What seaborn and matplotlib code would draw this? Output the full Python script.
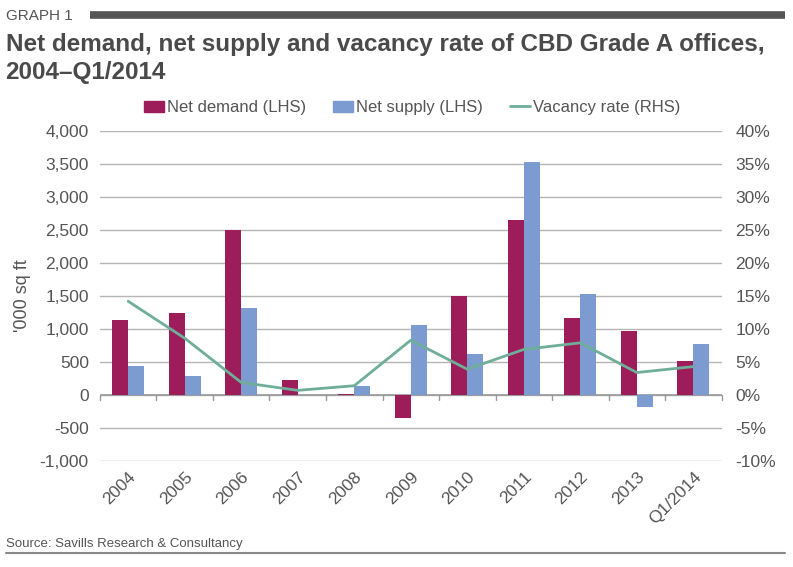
import numpy as np
import pandas as pd
import matplotlib
matplotlib.use("Agg")
import matplotlib.pyplot as plt
import seaborn as sns
from matplotlib.ticker import FuncFormatter, MultipleLocator
from matplotlib.patches import Patch
from matplotlib.lines import Line2D

# data
periodos = ["2004", "2005", "2006", "2007", "2008", "2009", "2010", "2011", "2012", "2013", "Q1/2014"]
net_demand = [1140, 1245, 2500, 225, 20, -355, 1500, 2655, 1165, 975, 520]
net_supply = [445, 280, 1320, 0, 130, 1065, 615, 3535, 1525, -180, 775]
vacancy = [14.2, 8.6, 1.9, 0.7, 1.4, 8.3, 3.9, 6.9, 7.9, 3.4, 4.3]

cor_demand = "#9C1D5A"
cor_supply = "#7B9BD1"
cor_vac = "#6FAE98"
cinza = "#555555"

sns.set_theme(style="white")
plt.rcParams['font.family'] = ['Liberation Sans', 'DejaVu Sans']

df = pd.DataFrame({
    "periodo": periodos * 2,
    "valor": net_demand + net_supply,
    "serie": ["Net demand (LHS)"] * len(periodos) + ["Net supply (LHS)"] * len(periodos),
})

fig = plt.figure(figsize=(7.93, 5.67), dpi=100)
ax = fig.add_axes([0.126, 0.187, 0.784, 0.582])

sns.barplot(data=df, x="periodo", y="valor", hue="serie", order=periodos,
            palette=[cor_demand, cor_supply], width=0.57, gap=0, saturation=1,
            linewidth=0, ax=ax, legend=False, zorder=3)

ax.set_ylim(-1000, 4000)
ax.yaxis.set_major_locator(MultipleLocator(500))
ax.yaxis.set_major_formatter(FuncFormatter(lambda v, p: f"{v:,.0f}"))
ax.grid(axis="y", color="#B5B5B5", linewidth=1, zorder=0)
ax.axhline(0, color="#999999", linewidth=1.2, zorder=2)
for s in ax.spines.values():
    s.set_visible(False)
ax.set_xlim(-0.5, len(periodos) - 0.5)
ax.tick_params(axis="y", length=0, labelsize=12.5, labelcolor=cinza, pad=8)
ax.set_xticks(range(len(periodos)))
ax.set_xticklabels(periodos, rotation=45, ha="right", rotation_mode="anchor",
                   fontsize=12.5, color=cinza)
ax.tick_params(axis="x", length=0, pad=6)
ax.set_xlabel("")
ax.set_ylabel("'000 sq ft", fontsize=13, color=cinza, labelpad=6)

# tick marks between categories on the zero line
for b in np.arange(-0.5, len(periodos), 1):
    ax.plot([b, b], [0, -80], color="#999999", linewidth=1, zorder=2, clip_on=False)

ax2 = ax.twinx()
sns.lineplot(x=np.arange(len(periodos)), y=vacancy, color=cor_vac, linewidth=2,
             ax=ax2, zorder=4)
ax2.set_ylim(-10, 40)
ax2.yaxis.set_major_locator(MultipleLocator(5))
ax2.yaxis.set_major_formatter(FuncFormatter(lambda v, p: f"{v:.0f}%"))
ax2.tick_params(axis="y", length=0, labelsize=12.5, labelcolor=cinza, pad=10)
for s in ax2.spines.values():
    s.set_visible(False)
ax2.grid(False)

# legend
handles = [Patch(color=cor_demand), Patch(color=cor_supply),
           Line2D([0], [0], color=cor_vac, linewidth=2)]
labels = ["Net demand (LHS)", "Net supply (LHS)", "Vacancy rate (RHS)"]
fig.legend(handles, labels, loc="center", bbox_to_anchor=(0.52, 0.81), ncol=3,
           frameon=False, fontsize=12, labelcolor=cinza, handlelength=1.2,
           handletextpad=0.2, columnspacing=1.6)

# header
fig.text(0.007, 0.972, "GRAPH 1", fontsize=11, color=cinza, va="center")
fig.add_artist(Line2D([0.113, 0.99], [0.973, 0.973], color="#555555",
                      linewidth=5.5, solid_capstyle="butt", transform=fig.transFigure))
fig.text(0.007, 0.921, "Net demand, net supply and vacancy rate of CBD Grade A offices,",
         fontsize=17.5, fontweight="bold", color="#4A4A4A", va="center")
fig.text(0.007, 0.873, "2004\u2013Q1/2014", fontsize=17.5, fontweight="bold",
         color="#4A4A4A", va="center")

# footer
fig.text(0.007, 0.04, "Source: Savills Research & Consultancy", fontsize=9.5,
         color=cinza, va="center")
fig.add_artist(Line2D([0.007, 0.99], [0.024, 0.024], color="#888888",
                      linewidth=1.5, transform=fig.transFigure))

fig.savefig("out.png", dpi=100)
